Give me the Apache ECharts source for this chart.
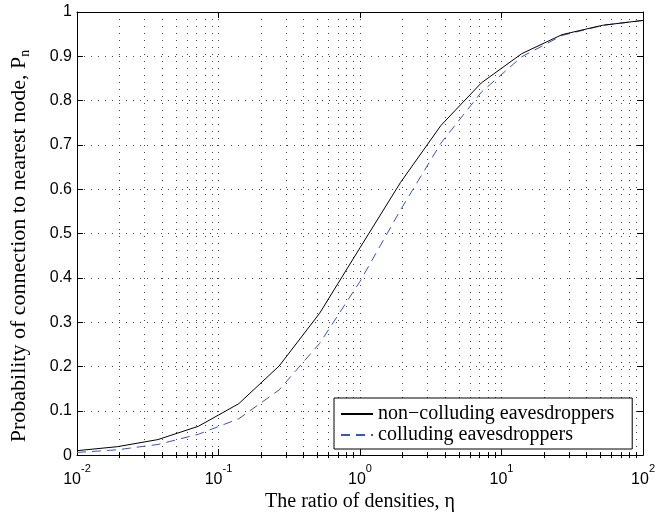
<!DOCTYPE html>
<html>
<head>
<meta charset="utf-8">
<script src="https://cdn.jsdelivr.net/npm/echarts@6/dist/echarts.min.js"></script>
<style>
html,body{margin:0;padding:0;background:#fff;}
#chart{width:658px;height:517px;}
</style>
</head>
<body>
<div id="chart"></div>
<script>
// ---- data ----
const eta = [0.01, 0.0193, 0.0373, 0.0720, 0.139, 0.268, 0.518, 1, 1.93, 3.73, 7.20, 13.9, 26.8, 51.8, 100];
const nonColluding = [0.010, 0.019, 0.035, 0.065, 0.116, 0.201, 0.320, 0.468, 0.615, 0.744, 0.840, 0.906, 0.949, 0.970, 0.981];
const colluding    = [0.006, 0.012, 0.024, 0.047, 0.082, 0.147, 0.252, 0.392, 0.553, 0.704, 0.819, 0.899, 0.947, 0.970, 0.981];
const seriesNames = ['non\u2212colluding eavesdroppers', 'colluding eavesdroppers'];
const majorTicksX = [0.01, 0.1, 1, 10, 100];
const minorTicksX = [0.02, 0.03, 0.04, 0.05, 0.06, 0.07, 0.08, 0.09,
                     0.2, 0.3, 0.4, 0.5, 0.6, 0.7, 0.8, 0.9,
                     2, 3, 4, 5, 6, 7, 8, 9,
                     20, 30, 40, 50, 60, 70, 80, 90];
const xTitle = 'The ratio of densities, \u03b7';
const yTitle = 'Probability of connection to nearest node, P';
const yTitleSub = 'n';

const chart = echarts.init(document.getElementById('chart'), null, {renderer: 'canvas'});
const serif = 'Liberation Serif';
const sans = 'Liberation Sans';
const gridDot = {color: '#444', width: 1, type: [1, 6]};

function xAxisBase(extra) {
  return Object.assign({
    type: 'log', logBase: 10, min: 0.01, max: 100,
    axisLine: {show: false},
    axisLabel: {show: false},
    axisTick: {show: false},
    splitLine: {show: false},
    minorTick: {show: false},
    minorSplitLine: {show: false}
  }, extra);
}

const option = {
  animation: false,
  backgroundColor: '#fff',
  textStyle: {fontFamily: serif},
  grid: {left: 72, right: 13, top: 12, bottom: 60, show: false},
  xAxis: [
    xAxisBase({
      position: 'bottom',
      axisLine: {show: true, onZero: false, lineStyle: {color: '#000', width: 1}},
      axisTick: {show: true, inside: true, length: 6, lineStyle: {color: '#000'}, customValues: majorTicksX},
      axisLabel: {
        show: true, margin: 8, customValues: majorTicksX,
        formatter: function (v) {
          const e = Math.round(Math.log10(v));
          return '{b|10}{e|' + e + '}';
        },
        rich: {
          b: {fontFamily: sans, fontSize: 16, color: '#000', lineHeight: 24, verticalAlign: 'bottom'},
          e: {fontFamily: sans, fontSize: 11, color: '#000', lineHeight: 11, verticalAlign: 'top'}
        }
      },
      splitLine: {show: true, lineStyle: gridDot},
      name: xTitle, nameLocation: 'middle', nameGap: 30,
      nameTextStyle: {fontFamily: serif, fontSize: 20, color: '#000'}
    }),
    xAxisBase({
      position: 'bottom',
      axisTick: {show: true, inside: true, length: 3, lineStyle: {color: '#000'}, customValues: minorTicksX},
      splitLine: {show: true, lineStyle: gridDot}
    }),
    xAxisBase({
      position: 'top',
      axisLine: {show: true, onZero: false, lineStyle: {color: '#000', width: 1}},
      axisTick: {show: true, inside: true, length: 6, lineStyle: {color: '#000'}, customValues: majorTicksX}
    }),
    xAxisBase({
      position: 'top',
      axisTick: {show: true, inside: true, length: 3, lineStyle: {color: '#000'}, customValues: minorTicksX}
    })
  ],
  yAxis: [
    {
      type: 'value', min: 0, max: 1, interval: 0.1, position: 'left',
      axisLine: {show: true, onZero: false, lineStyle: {color: '#000', width: 1}},
      axisTick: {show: true, inside: true, length: 6, lineStyle: {color: '#000'}},
      axisLabel: {show: true, margin: 5, fontFamily: sans, fontSize: 16, color: '#000'},
      splitLine: {show: true, lineStyle: gridDot},
      name: '{a|' + yTitle + '}{s|' + yTitleSub + '}',
      nameLocation: 'middle', nameGap: 45,
      nameTextStyle: {
        fontFamily: serif, fontSize: 22, color: '#000',
        padding: [0, 25, 0, 0],
        rich: {
          a: {fontFamily: serif, fontSize: 22, color: '#000', lineHeight: 24, verticalAlign: 'top'},
          s: {fontFamily: serif, fontSize: 14, color: '#000', lineHeight: 14, verticalAlign: 'bottom'}
        }
      }
    },
    {
      type: 'value', min: 0, max: 1, interval: 0.1, position: 'right',
      axisLine: {show: true, onZero: false, lineStyle: {color: '#000', width: 1}},
      axisTick: {show: true, inside: true, length: 6, lineStyle: {color: '#000'}},
      axisLabel: {show: false},
      splitLine: {show: false}
    }
  ],
  legend: {
    orient: 'vertical', left: 334, top: 398,
    backgroundColor: '#fff', borderColor: '#000', borderWidth: 1, borderRadius: 0,
    padding: [6, 18, 4, 6], itemGap: 1, itemWidth: 32, itemHeight: 14,
    itemStyle: {opacity: 0},
    textStyle: {fontFamily: serif, fontSize: 20, lineHeight: 20, color: '#000'},
    data: seriesNames
  },
  series: [
    {
      name: seriesNames[0], type: 'line', xAxisIndex: 0, yAxisIndex: 0,
      symbol: 'none', showSymbol: false,
      lineStyle: {color: '#000', width: 1},
      itemStyle: {color: '#000'},
      data: eta.map((x, i) => [x, nonColluding[i]]),
      z: 3
    },
    {
      name: seriesNames[1], type: 'line', xAxisIndex: 0, yAxisIndex: 0,
      symbol: 'none', showSymbol: false,
      lineStyle: {color: '#3558bb', width: 1, type: [9, 6]},
      itemStyle: {color: '#3558bb'},
      data: eta.map((x, i) => [x, colluding[i]]),
      z: 2
    }
  ]
};
chart.setOption(option);
</script>
</body>
</html>
